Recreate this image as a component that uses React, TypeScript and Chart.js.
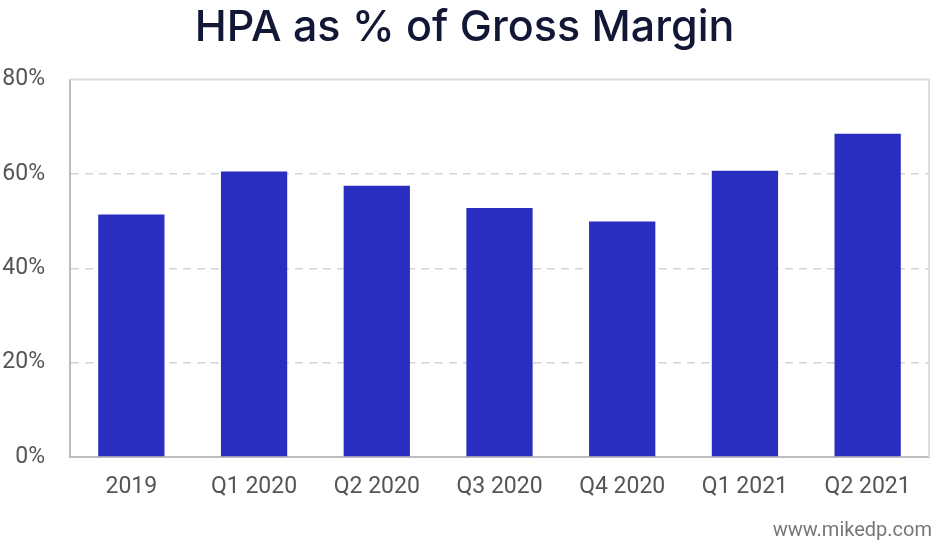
import React, { useEffect, useRef } from "react";
import { Chart, registerables } from "chart.js";

Chart.register(...registerables);

const categories = ["2019", "Q1 2020", "Q2 2020", "Q3 2020", "Q4 2020", "Q1 2021", "Q2 2021"];
const hpaShare = [51.4, 60.5, 57.5, 52.8, 49.9, 60.7, 68.5];
const yTicks = [0, 20, 40, 60, 80];
const titleText = "HPA as % of Gross Margin";
const watermark = "www.mikedp.com";

const framePlugin = {
  id: "frame",
  afterDraw(chart: any) {
    const { ctx, chartArea } = chart;
    ctx.save();
    ctx.strokeStyle = "#dcdcdc";
    ctx.lineWidth = 2;
    ctx.beginPath();
    ctx.moveTo(chartArea.left, chartArea.top);
    ctx.lineTo(chartArea.right, chartArea.top);
    ctx.lineTo(chartArea.right, chartArea.bottom);
    ctx.stroke();
    ctx.font = "20px Roboto";
    ctx.fillStyle = "#777";
    ctx.textAlign = "right";
    ctx.textBaseline = "middle";
    ctx.fillText(watermark, chart.width - 10, 531);
    ctx.restore();
  },
};

export default function App() {
  const ref = useRef<HTMLCanvasElement>(null);
  useEffect(() => {
    const chart = new Chart(ref.current!, {
      type: "bar",
      data: {
        labels: categories,
        datasets: [
          {
            data: hpaShare,
            backgroundColor: "#292dc0",
            categoryPercentage: 1,
            barPercentage: 0.54,
          },
        ],
      },
      options: {
        animation: false,
        responsive: false,
        layout: { padding: { left: 0, right: 13, top: 0, bottom: 0 } },
        plugins: {
          legend: { display: false },
          tooltip: { enabled: false },
          title: {
            display: true,
            text: titleText,
            color: "#121735",
            font: { family: "Inter", size: 43, weight: "500" },
            padding: { top: 2, bottom: 26 },
          },
        },
        scales: {
          x: {
            grid: { display: false, drawTicks: false },
            border: { display: true, color: "#bdbdbd", width: 2 },
            ticks: { color: "#555", font: { family: "Roboto", size: 23 }, padding: 16 },
            afterFit: (s: any) => {
              s.height = 89;
            },
          },
          y: {
            min: 0,
            max: 80,
            afterBuildTicks: (s: any) => {
              s.ticks = yTicks.map((v) => ({ value: v }));
            },
            grid: {
              drawTicks: false,
              color: (c: any) => (c.tick && (c.tick.value === 0 || c.tick.value === 80) ? "rgba(0,0,0,0)" : "#d4d4d4"),
              lineWidth: 1.5,
            },
            border: { display: true, color: "#bdbdbd", width: 2, dash: [8, 6] },
            ticks: {
              color: "#555",
              font: { family: "Roboto", size: 23 },
              padding: 25,
              callback: (v: any) => v + "%",
            },
            afterFit: (s: any) => {
              s.width = 70;
            },
          },
        },
      },
      plugins: [framePlugin],
    });
    return () => chart.destroy();
  }, []);
  return (
    <div style={{ position: "fixed", left: 0, top: 0, width: 942, height: 546, background: "#fff" }}>
      <canvas ref={ref} width={942} height={546} />
    </div>
  );
}
